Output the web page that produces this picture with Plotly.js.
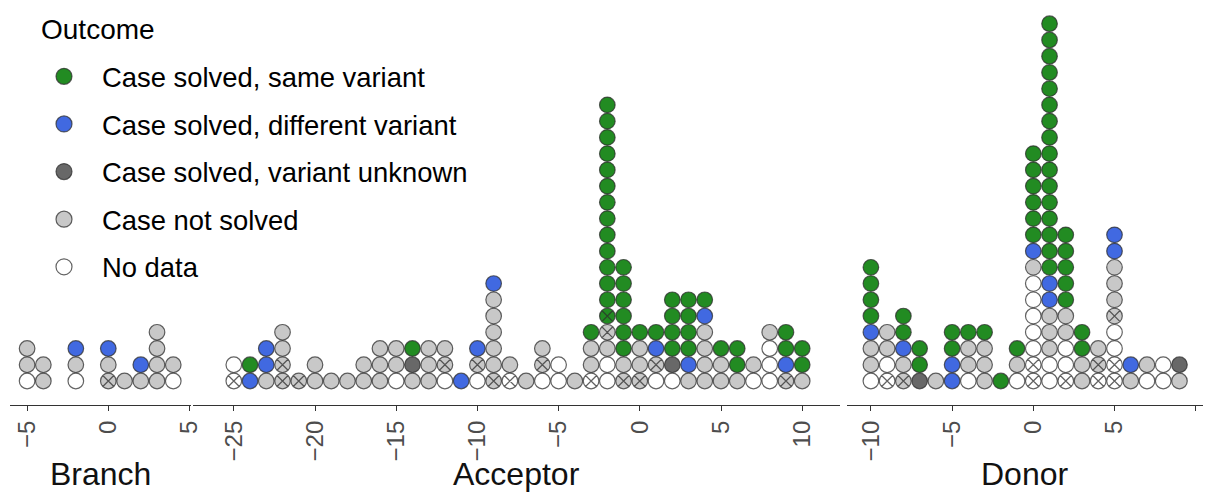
<!DOCTYPE html>
<html><head><meta charset="utf-8">
<script src="https://cdn.plot.ly/plotly-3.0.1.min.js"></script>
<style>html,body{margin:0;padding:0;background:#fff}#chart{width:1208px;height:493px}</style>
</head><body><div id="chart"></div>
<script>
// ---- data ----
const outcomeCodes = ["G", "B", "D", "U", "W"];
const outcomeLabels = ["Case solved, same variant", "Case solved, different variant",
  "Case solved, variant unknown", "Case not solved", "No data"];
const legendTitle = "Outcome";
const panelNames = ["Branch", "Acceptor", "Donor"];

// stacks read bottom -> top; suffix "x" = crossed circle
const branchPos = [-5, -4, -2, 0, 1, 2, 3, 4];
const branchStacks = ["W U U", "U U", "W U B", "Ux U B", "U", "U B", "U U U U", "W U"];

const acceptorPos = [-25, -24, -23, -22, -21, -20, -19, -18, -17, -16, -15, -14, -13, -12, -11, -10,
  -9, -8, -7, -6, -5, -4, -3, -2, -1, 0, 1, 2, 3, 4, 5, 6, 7, 8, 9, 10];
const acceptorStacks = [
  "Wx W", "B G", "U B B", "Ux Ux U U", "Ux", "U U", "U", "U", "U U", "U U U", "W U U", "U D G",
  "U U U", "W Ux U", "B", "W Ux B", "Ux U U U U U B", "Wx U", "U", "W Ux U", "W W", "U",
  "Wx U U G", "W W U Ux Gx G G G G G G G G G G G G G", "Ux U G G G G G G", "Ux U U G",
  "W Ux B G", "W D G G G G", "U B G G G G", "U U U U B G", "U U G", "U G G", "W U",
  "W W W U", "Ux B G G", "U G G"];

const donorPos = [-10, -9, -8, -7, -6, -5, -4, -3, -2, -1, 0, 1, 2, 3, 4, 5, 6, 7, 8, 9];
const donorStacks = [
  "W U U B G G G G", "Wx W U U", "Ux U B G G", "D G G", "U", "B B G G", "W U U G", "U U U G",
  "G", "W U G", "Wx Wx W W W W W U B G G G G G G",
  "W W U U U B B G G G G G G G G G G G G G G G G", "Wx W W U U G G G G G", "U U G G",
  "Wx Ux U", "Wx Wx W W Ux U U U B B", "U B", "W U", "W W", "U D"];

const branchTicks = [-5, 0, 5];
const acceptorTicks = [-25, -20, -15, -10, -5, 0, 5, 10];
const donorTicks = [-10, -5, 0, 5, 10];

// ---- styles / layout constants ----
const outcomeColors = ["#228B22", "#4169E1", "#686868", "#C8C8C8", "#FFFFFF"];
const OUTLINE = "rgba(45,45,45,0.75)";
const W = 1208, H = 493;
const UNIT = 16.24;      // px per data unit (both axes)
const AXIS_Y = 405;      // px of x-axis line
const ROW1_Y = 381;      // px of bottom dot row
const DOT = 15.6;
const FONT = "Liberation Sans, Arial, Helvetica, sans-serif";
const panelGeom = [
  {left: 10, right: 191, zero: 108.3},
  {left: 193, right: 840, zero: 639.8},
  {left: 847, right: 1203, zero: 1033.3}];

const panelData = [[branchPos, branchStacks, branchTicks], [acceptorPos, acceptorStacks, acceptorTicks],
  [donorPos, donorStacks, donorTicks]];
const axisIds = ["x", "x2", "x3"];

const traces = [];
// legend entries
outcomeCodes.forEach((code, ci) => {
  traces.push({type: "scatter", mode: "markers", x: [null], y: [null], name: outcomeLabels[ci],
    legendgroup: code, showlegend: true, hoverinfo: "skip",
    marker: {size: 19, color: outcomeColors[ci], symbol: "circle", line: {color: OUTLINE, width: 1.2}}});
});
panelData.forEach((pd, pi) => {
  const [pos, stacks] = pd;
  outcomeCodes.forEach((code, ci) => {
    const xs = [], ys = [], syms = [];
    pos.forEach((p, i) => {
      stacks[i].split(" ").forEach((tok, r) => {
        if (tok[0] === code) {
          xs.push(p); ys.push(r + 1); syms.push(tok.length > 1 ? "circle-x" : "circle");
        }
      });
    });
    if (xs.length) traces.push({type: "scatter", mode: "markers", x: xs, y: ys,
      xaxis: axisIds[pi], yaxis: "y", showlegend: false, legendgroup: code, name: outcomeLabels[ci],
      hoverinfo: "x+name",
      marker: {size: DOT, color: outcomeColors[ci], symbol: syms, line: {color: OUTLINE, width: 1.2}}});
  });
});

const layout = {
  width: W, height: H, margin: {l: 0, r: 0, t: 0, b: 0},
  paper_bgcolor: "#fff", plot_bgcolor: "rgba(0,0,0,0)",
  font: {family: FONT, color: "#000"},
  showlegend: true,
  legend: {x: 26 / W, xanchor: "left", y: 1 - 52 / H, yanchor: "top", bgcolor: "rgba(0,0,0,0)",
    font: {size: 27.4, color: "#000", family: FONT}, itemwidth: 66, tracegroupgap: 9,
    traceorder: "grouped"},
  yaxis: {domain: [(H - AXIS_Y) / H, 1], range: [1 - (AXIS_Y - ROW1_Y) / UNIT, 1 + ROW1_Y / UNIT],
    visible: false, fixedrange: true},
  annotations: [{text: legendTitle, xref: "paper", x: 39 / W, xanchor: "left", yref: "paper",
    y: 1 - 30 / H, yanchor: "middle", showarrow: false, font: {size: 28, color: "#000", family: FONT}}]
};
panelGeom.forEach((g, pi) => {
  const key = pi === 0 ? "xaxis" : "xaxis" + (pi + 1);
  layout[key] = {
    domain: [g.left / W, g.right / W], anchor: "y",
    range: [(g.left - g.zero) / UNIT, (g.right - g.zero) / UNIT],
    tickmode: "array", tickvals: panelData[pi][2],
    showline: true, linecolor: "#333", linewidth: 1.2,
    ticks: "outside", ticklen: 5, tickwidth: 1.2, tickcolor: "#333",
    tickangle: -90, tickfont: {size: 24, color: "#4d4d4d", family: FONT},
    showgrid: false, zeroline: false, fixedrange: true
  };
  layout.annotations.push({text: panelNames[pi], xref: axisIds[pi] + " domain", x: 0.5, xanchor: "center",
    yref: "paper", y: (H - 474) / H, yanchor: "middle", showarrow: false,
    font: {size: 32, color: "#111", family: FONT}});
});

Plotly.newPlot("chart", traces, layout, {displayModeBar: false, staticPlot: false});
</script></body></html>
